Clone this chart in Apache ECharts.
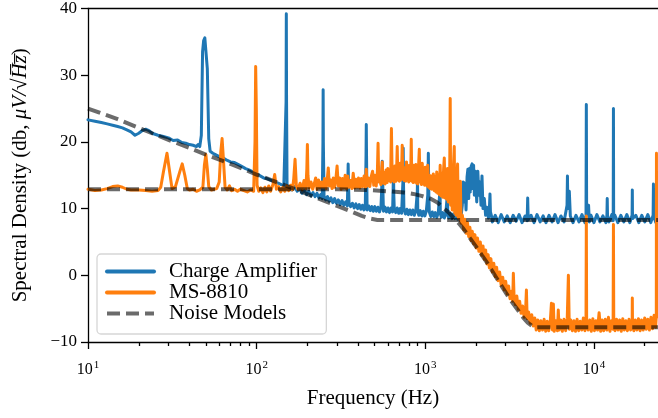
<!DOCTYPE html>
<html><head><meta charset="utf-8">
<script src="https://cdn.jsdelivr.net/npm/echarts@6/dist/echarts.min.js"></script>
<style>html,body{margin:0;padding:0;background:#fff}#c{width:658px;height:418px}</style>
</head><body><div id="c"></div>
<script>
const xMin = 10, xMax = 24000;
const yMin = -10, yMax = 40, yStep = 10;
const majorTicks = [10, 100, 1000, 10000];
const minorTicks = [20,30,40,50,60,70,80,90,200,300,400,500,600,700,800,900,2000,3000,4000,5000,6000,7000,8000,9000,20000];
const seriesNames = ['Charge Amplifier', 'MS-8810', 'Noise Models'];

const chargeAmp = [
[10,23.3],[11,23.1],[12,22.9],[13,22.7],[14,22.5],[15,22.3],[16,22.1],[17,21.8],[18,21.5],[19,21.0],[20,21.3],[21,21.7],[22,21.9],[23,21.7],[24,21.3],[26,21.0],[28,20.8],[30,20.6],[32,20.2],[34,20.3],[36,19.9],[38,19.8],[40,19.6],[42,19.5],[44,19.3],[45,19.6],[46,19.3],[47,21.0],[47.8,33.5],[48.5,35.2],[49.3,35.6],[50.2,35.4],[51,31.0],[52,20.5],[53,18.6],[55,18.3],[57,18.1],[60,17.8],[63,17.6],[66,17.3],[70,17.0],[74,16.9],[78,16.6],[82,16.3],[86,16.0],[90,15.8],[95,15.5],[100,15.2],[105,14.9],[110,14.6],[115,14.5],[120,14.3],[125,14.1],[130,13.9],[135,13.8],[140,13.6],[145,13.5],[148.5,13.5],[149.5,26],[150,39.2],[150.5,26],[151.5,13.4],
[156,13.2],[162,12.8],[168,13.3],[174,12.6],[180,13.0],[186,12.3],[192,12.8],[198,12.1],[204,12.6],[210,11.9],[216,12.4],[222,11.8],[228,12.3],[234,11.6],[240,12.1],[245,11.5],[247.3,20],[248,27.8],[248.7,20],[251,11.9],[257,11.3],[263,11.8],[269,11.1],[276,11.6],[283,10.9],[290,11.5],[297,10.8],[305,11.3],[313,10.6],[321,11.2],[329,10.5],[337,11.0],[345,10.4],[347.5,14],[349,16.7],[350.5,14],[353,10.9],[361,10.3],[370,10.8],[379,10.1],[388,10.7],[397,10.0],[406,10.6],[415,9.9],[424,10.5],[433,9.8],[441,10.4],[445.5,18],[447,22.6],[448.5,18],[452,9.8],[462,10.4],[472,9.7],[482,10.3],[492,9.6],[502,10.3],[513,9.6],[524,10.2],[535,9.5],[546,10.2],[552,13],[556,17.1],[560,13.5],[565,9.6],[577,10.2],[589,9.5],[601,10.1],[614,9.4],[627,10.1],[640,9.5],[645,13],[648,16.2],[651,12],[655,10.0],[668,9.4],[682,10.1],[696,9.3],[710,10.0],[724,9.3],[737,14],[740,19.1],[743,14],[747,10.0],[762,9.2],[778,9.9],[794,9.1],[810,9.8],[827,9.1],[844,9.8],[861,9.0],[879,9.7],[897,12.5],[900,14.5],[903,9.6],[916,9.0],[935,9.7],[954,8.9],[974,9.6],[994,8.9],[1014,9.6],[1035,12],[1043,18.3],[1050,12],[1057,9.5],
[1079,8.8],[1101,9.5],[1124,8.8],[1147,9.4],[1171,8.7],[1195,9.4],[1220,12.5],[1224,14.0],[1228,9.3],[1245,8.7],[1271,9.4],[1297,8.6],[1324,9.3],[1351,12.0],[1355,13.0],[1360,9.0],[1379,8.6],[1407,9.3],[1436,8.5],[1466,9.2],[1496,8.5],[1527,9.2],[1559,8.4],[1591,9.2],[1624,8.5],[1658,10.5],[1680,14.0],[1700,11.0],[1720,13.8],[1745,9.8],[1770,14.8],[1790,15.9],[1810,11.5],[1830,16.0],[1850,12.5],[1870,16.3],[1895,16.7],[1915,13.0],[1935,16.5],[1955,12.0],[1980,15.6],[2000,15.5],[2020,11.0],[2050,15.6],[2080,12.0],[2110,14.0],[2140,10.5],[2170,14.9],[2200,10.0],[2240,11.5],[2280,9.0],[2320,10.2],[2370,8.6],[2405,10.5],[2420,12.2],[2435,9.5],[2470,8.9],
[2500,8.0],[2600,9.0],[2710,7.9],[2820,9.1],[2940,8.0],[3060,8.9],[3190,7.9],[3320,9.0],[3460,8.1],[3600,9.1],[3750,7.9],[3910,8.9],[4020,8.2],[4050,11.6],[4080,8.3],[4240,9.0],[4420,7.9],[4600,9.1],[4800,8.0],[5000,8.9],[5200,7.9],[5420,9.0],[5650,8.0],[5880,9.1],[6130,7.9],[6380,8.9],[6650,8.0],[6930,10.5],[6970,14.9],[7010,10.0],[7150,12.6],[7250,8.9],[7520,7.9],[7830,9.0],[8160,8.0],[8500,9.1],[8850,7.9],[8980,9.0],[9020,25.6],[9060,9.2],[9300,10.5],[9400,8.0],[9610,9.0],[10000,7.9],[10420,9.1],[10860,8.0],[11310,8.9],[11780,7.9],[11950,9.0],[12000,11.5],[12050,8.8],[12270,8.0],[12780,9.1],[13020,8.2],[13060,25.0],[13100,8.5],[13320,9.0],[13870,7.9],[14450,9.0],[15050,8.0],[15680,9.1],[16340,7.9],[16850,9.0],[16900,12.8],[16950,8.5],[17730,9.0],[18470,7.9],[19240,9.0],[20040,8.0],[20880,9.1],[21750,7.9],[22450,9.0],[22550,13.7],[22650,8.8],[23300,7.9],[24000,8.8]
];

const ms8810 = [
[10,12.9],[11,12.7],[12,12.8],[13,13.0],[14,13.3],[15,13.4],[16,13.2],[17,12.9],[18,12.8],[20,12.8],[22,12.7],[24,12.6],[26,12.7],[27,13.2],[28,15.5],[29.4,18.3],[30.5,15.5],[31.5,13.0],[33,13.3],[35,15.5],[36.2,16.7],[37.5,15.0],[38.8,13.0],[40,12.8],[42,12.9],[44,12.6],[46,12.8],[48,13.2],[49,16.5],[50,18.1],[51,16.0],[52,13.3],[54,12.8],[56,12.9],[58,13.0],[60,14.0],[61.3,18.5],[62.4,20.5],[63.5,17.5],[65,13.2],[67,12.8],[69,13.4],[71,12.7],[74,12.9],[77,12.6],[80,12.9],[84,12.7],[88,12.5],[92,12.8],[96,12.6],[97.8,20],[98.7,31.3],[99.6,25],[100.6,13.5],[103,12.6],
[106,13.1],[109,12.4],[112,13.2],[115,12.5],[118,13.4],[121,12.6],[125,13.6],[128,15.1],[131,12.9],[135,13.3],[139,12.5],[143,13.2],[147,12.6],[151,13.4],[155,12.7],[159,13.5],[163,12.8],[166,14.5],[169,17.4],[172,13.4],[176,12.9],[181,13.8],[186,12.8],[191,14.2],[196,13.0],[198.5,16],[200,19.6],[201.5,15],[205,13.1],[210,14.0],[215,12.9],[220,13.8],[224,14.6],[228,12.9],[233,14.3],[238,13.1],[243,14.0],[248,13.2],[253,14.5],[258,13.0],[262,14.2],[266,16.1],[270,13.4],[275,14.3],[280,13.0],[285,14.6],[290,13.2],[295,14.4],[300,16.4],[305,13.4],
[311,14.6],[317,12.9],[323,14.5],[329,13.1],[335,15.0],[341,13.0],[347,14.9],[353,13.2],[360,14.2],[367,13.0],[374,15.3],[381,13.1],[388,14.4],[395,13.2],[402,14.6],[410,13.1],[418,14.5],[426,13.3],[434,14.9],[442,13.2],[447,15.9],[452,13.4],[460,14.6],[469,13.3],[478,14.8],[487,15.6],[495,13.5],[503,15.0],[512,13.4],[520,15.5],[525,19.8],[530,14.0],[538,15.3],[545,13.6],[552,16.0],[556,17.0],[562,13.8],[570,15.4],[578,13.7],[586,15.8],[594,13.9],[600,16.0],[608,14.2],[616,15.0],[623,14.0],[630,22.0],[637,14.2],[645,15.6],[653,14.0],[661,16.4],[669,14.1],[676,15.5],[682,19.3],[688,14.3],[695,15.8],[702,14.1],[710,16.8],[717,14.3],[724,15.6],[730,19.5],[736,14.4],[743,16.2],[750,14.2],[758,15.6],[766,14.1],[774,17.0],[782,14.3],[790,15.8],[798,14.0],[806,16.5],[814,14.2],[820,15.2],[826,20.4],[832,14.1],[840,15.9],[848,13.9],[856,16.5],[864,14.0],[872,15.2],[880,16.6],[888,13.8],[896,15.4],[904,13.7],[912,16.2],[922,18.9],[930,14.0],[940,15.6],[950,13.6],[960,16.8],[970,13.8],[980,15.2],[990,13.5],[1000,16.2],[1014,15.9],[1024,13.4],[1035,16.5],[1046,13.2],[1057,15.0],[1068,13.0],[1080,14.9],[1092,12.9],[1104,14.6],[1117,15.2],[1130,12.7],[1143,14.8],[1156,12.5],[1170,15.5],[1184,12.3],[1198,15.0],[1212,12.1],[1226,16.5],[1240,11.9],[1255,15.3],[1270,11.7],[1285,16.0],[1297,17.6],[1310,11.6],[1325,15.2],[1340,11.4],[1355,16.0],[1370,11.0],[1385,15.0],[1397,16.0],[1406,26.5],[1415,10.5],[1430,15.5],[1445,9.8],[1460,14.8],[1475,15.0],[1486,19.3],[1497,9.3],[1510,15.0],[1525,9.0],[1540,14.5],[1555,16.7],[1570,8.6],[1590,12.5],[1605,8.3],[1615,14.1],[1630,7.8],
[1660,9.0],[1690,6.8],[1720,8.4],[1750,6.3],[1780,7.9],[1810,5.8],[1840,7.2],[1870,5.2],[1900,6.6],[1935,4.7],[1970,6.1],[2005,4.1],[2040,5.6],[2080,3.6],[2120,5.0],[2160,3.0],[2200,4.4],[2240,2.4],[2280,3.8],[2320,1.7],[2360,3.1],[2400,1.1],[2450,2.5],[2500,0.5],[2550,1.8],[2600,-0.2],[2650,1.2],[2700,-0.8],[2760,0.5],[2820,-1.5],[2880,-0.3],[2940,-2.2],[3000,-0.9],[3060,-2.8],[3120,-1.6],[3180,-3.5],[3250,-2.4],[3300,-3.9],[3330,0.3],[3360,-3.0],[3420,-4.4],[3490,-3.1],[3560,-5.1],[3630,-3.9],[3700,-5.7],[3780,-4.6],[3860,-6.3],[3940,-5.0],[3980,-2.2],[4020,-6.5],[4100,-5.5],[4190,-7.2],[4280,-5.9],[4370,-7.6],[4460,-6.4],
[4550,-8.2],[4650,-6.7],[4750,-8.3],[4850,-6.8],[4960,-8.2],[5070,-6.6],[5180,-8.4],[5290,-6.9],[5400,-8.3],[5520,-6.7],[5600,-4.2],[5680,-8.2],[5750,-4.3],[5820,-8.4],[5950,-6.8],[6080,-8.3],[6150,-5.2],[6220,-8.2],[6360,-6.7],[6500,-8.4],[6650,-6.6],[6800,-8.3],[6950,-6.5],[7060,0.0],[7150,-8.1],[7300,-6.7],[7460,-8.3],[7620,-6.8],[7780,-8.4],[7950,-6.6],[8120,-8.3],[8300,-6.9],[8480,-8.2],[8660,-6.4],[8850,-8.3],[8980,-6.8],[9020,8.9],[9060,-6.9],[9250,-8.2],[9450,-6.7],[9650,-8.4],[9860,-6.5],[10070,-8.3],[10290,-6.8],[10510,-8.2],[10740,-5.6],[10970,-8.4],[11200,-6.7],[11440,-8.3],[11690,-6.6],[11940,-8.2],[12200,-6.3],[12460,-8.4],[12730,-6.8],[13000,-8.1],[13060,7.6],[13120,-7.0],[13340,-8.3],[13630,-6.6],[13920,-8.2],[14220,-6.7],[14530,-8.4],[14840,-6.5],[15160,-8.2],[15490,-6.8],[15820,-8.3],[16160,-6.6],[16510,-8.2],[16870,-6.7],[16900,-3.4],[16940,-6.9],[17240,-8.3],[17610,-6.7],[17990,-8.2],[18380,-6.5],[18780,-8.3],[19180,-6.7],[19600,-8.2],[20020,-6.4],[20450,-8.1],[20890,-6.6],[21340,-8.2],[21800,-6.3],[22270,-8.0],[22750,-6.0],[23240,-7.8],[23450,-6.0],[23500,18.3],[23550,-6.0],[24000,-6.2]
];

const chargeAmpModel = [[10,25.0],[15,23.4],[20,22.1],[30,20.3],[40,19.1],[50,18.1],[70,16.7],[100,15.1],[140,13.7],[181,12.6],[250,11.2],[300,10.4],[360,9.6],[420,8.9],[470,8.5],[520,8.3],[24000,8.3]];
const ms8810Model = [[10,12.9],[300,12.9],[450,12.8],[600,12.6],[750,12.4],[850,12.2],[950,11.9],[1070,11.5],[1180,10.9],[1280,10.1],[1380,9.4],[1470,8.6],[1580,7.8],[1680,7.0],[1850,5.5],[2000,4.3],[2170,3.0],[2340,1.8],[2600,-0.1],[2900,-2.0],[3200,-3.7],[3540,-5.2],[3800,-6.3],[4050,-7.1],[4300,-7.6],[4600,-7.8],[24000,-7.8]];

const font = '"Liberation Serif", "Times New Roman", serif';
const chart = echarts.init(document.getElementById('c'), null, {renderer: 'canvas'});
const axisBlack = {color: '#000', width: 1.3};

function lineSeries(name, data, color, z) {
  return {name, type: 'line', data, showSymbol: false, symbol: 'none', z,
    lineStyle: {color, width: 3, join: 'round', cap: 'round'}, itemStyle: {color}, silent: true};
}
function modelSeries(data) {
  return {name: 'Noise Models', type: 'line', data, showSymbol: false, symbol: 'none', z: 5,
    lineStyle: {color: 'rgba(0,0,0,0.58)', width: 4, type: [13, 6]}, itemStyle: {color: 'rgba(0,0,0,0.58)'}, silent: true};
}

chart.setOption({
  animation: false,
  grid: {left: 88, right: 0, top: 7, bottom: 76},
  legend: {
    data: seriesNames, orient: 'vertical', left: 97, top: 254,
    itemWidth: 47, itemHeight: 20, itemGap: 0, padding: [7, 9, 10, 8],
    borderColor: '#d6d6d6', borderWidth: 1.3, borderRadius: 4, backgroundColor: 'rgba(255,255,255,0.85)',
    textStyle: {fontFamily: font, fontSize: 21, color: '#000', lineHeight: 20, padding: [0, 0, 0, 10]},
    itemStyle: {color: 'rgba(0,0,0,0)', borderColor: 'rgba(0,0,0,0)', borderWidth: 0},
    lineStyle: {width: 4}
  },
  xAxis: [
    {type: 'log', logBase: 10, min: xMin, max: xMax,
     axisLine: {onZero: false, lineStyle: axisBlack},
     axisTick: {length: 7, lineStyle: axisBlack, customValues: majorTicks},
     axisLabel: {customValues: majorTicks, margin: 18,
       formatter: v => '{b|10}{s|' + Math.round(Math.log10(v)) + '}',
       rich: {b: {fontFamily: font, fontSize: 16, color: '#000'}, s: {fontFamily: font, fontSize: 11, color: '#000', padding: [0, 0, 9, 1]}}},
     splitLine: {show: false},
     name: 'Frequency (Hz)', nameLocation: 'middle', nameGap: 46,
     nameTextStyle: {fontFamily: font, fontSize: 21, color: '#000'}},
    {type: 'log', logBase: 10, min: xMin, max: xMax, position: 'bottom',
     axisLine: {show: false, onZero: false},
     axisTick: {length: 4, lineStyle: axisBlack, customValues: minorTicks},
     axisLabel: {show: false}, splitLine: {show: false}},
    {type: 'log', logBase: 10, min: xMin, max: xMax, position: 'top',
     axisLine: {onZero: false, lineStyle: axisBlack},
     axisTick: {show: false}, axisLabel: {show: false}, splitLine: {show: false}}
  ],
  yAxis: {type: 'value', min: yMin, max: yMax, interval: yStep,
    axisLine: {show: true, onZero: false, lineStyle: axisBlack},
    axisTick: {show: true, length: 7, lineStyle: axisBlack},
    axisLabel: {fontFamily: font, fontSize: 17, color: '#000', margin: 11,
      formatter: v => v < 0 ? '\u2212' + (-v) : String(v)},
    splitLine: {show: false},
    name: 'Spectral Density (db, {i|\u03bcV/}\u221a{i|H\u0305z\u0305})', nameLocation: 'middle', nameGap: 57, nameRotate: 90,
    nameTextStyle: {fontFamily: font, fontSize: 21, color: '#000',
      rich: {i: {fontFamily: font, fontSize: 21, fontStyle: 'italic', color: '#000'}}}},
  series: [
    lineSeries('Charge Amplifier', chargeAmp, '#1f77b4', 2),
    lineSeries('MS-8810', ms8810, '#ff7f0e', 3),
    modelSeries(chargeAmpModel),
    modelSeries(ms8810Model)
  ]
});
</script></body></html>
